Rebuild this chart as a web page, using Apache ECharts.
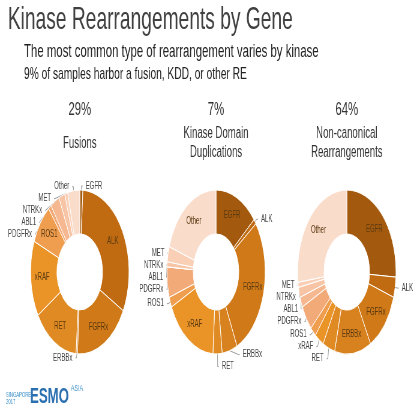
<!DOCTYPE html>
<html><head><meta charset="utf-8">
<script src="https://cdn.jsdelivr.net/npm/echarts@6/dist/echarts.min.js"></script>
<style>
html,body{margin:0;padding:0;background:#fff;overflow:hidden}
#main{width:700px;height:420px;transform:scale(0.6,1);transform-origin:0 0}
</style></head>
<body><div id="main"></div>
<script>
var genes = ['EGFR','ALK','FGFRx','ERBBx','RET','xRAF','ROS1','PDGFRx','ABL1','NTRKx','MET','Other'];
var colors = ['#a45a0e','#c06b12','#cf7918','#d8821f','#e08a24','#ea9428','#ef9d4e','#f2aa78','#f5b890','#f7c5a6','#f9cfb6','#fadccb'];
var fusions = [1, 32, 18, 0.5, 15, 15, 8, 1, 3, 2, 1, 4];
var kdd = [14, 1, 28, 5, 3, 17, 2, 6, 0, 1, 3, 20];
var noncanon = [26, 4, 12, 12, 4, 3, 2, 5, 2, 2, 1, 27];
var pcts = ['29%', '7%', '64%'];
var groupNames = ['Fusions', 'Kinase Domain\nDuplications', 'Non-canonical\nRearrangements'];
var centersX = [133, 360, 578];

function makeData(vals) {
    return genes.map(function (g, i) {
        var big = vals[i] >= 8;
        return {
            name: g, value: vals[i],
            itemStyle: {color: colors[i]},
            label: big ? {position: 'inside', color: '#5a3a10'} : {position: 'outside'},
            labelLine: {show: !big, length: 4, length2: 2, lineStyle: {color: '#999'}}
        };
    });
}

var series = [fusions, kdd, noncanon].map(function (vals, k) {
    return {
        type: 'pie',
        center: [centersX[k], 272],
        radius: [38, 82],
        startAngle: 90,
        clockwise: true,
        avoidLabelOverlap: true,
        itemStyle: {borderColor: '#fff', borderWidth: 1},
        label: {fontSize: 10, color: '#444', fontFamily: 'Liberation Sans'},
        data: makeData(vals)
    };
});

var graphics = [
    {type: 'text', left: 13, top: 4, style: {text: 'Kinase Rearrangements by Gene', fontSize: 32, fill: '#404040', fontFamily: 'Liberation Sans'}},
    {type: 'text', left: 40, top: 42, style: {text: 'The most common type of rearrangement varies by kinase', fontSize: 19, fill: '#222', fontFamily: 'Liberation Sans'}},
    {type: 'text', left: 40, top: 66, style: {text: '9% of samples harbor a fusion, KDD, or other RE', fontSize: 17, fill: '#222', fontFamily: 'Liberation Sans'}},
    {type: 'text', left: 10, top: 392, style: {text: 'SINGAPORE\n2017', fontSize: 7, fill: '#3a8fc8', fontFamily: 'Liberation Sans'}},
    {type: 'text', left: 50, top: 386, style: {text: 'ESMO', fontSize: 22, fontWeight: 'bold', fill: '#2a6fb0', fontFamily: 'Liberation Sans'}},
    {type: 'text', left: 118, top: 384, style: {text: 'ASIA', fontSize: 9, fill: '#3a8fc8', fontFamily: 'Liberation Sans'}}
];
pcts.forEach(function (p, k) {
    graphics.push({type: 'text', x: centersX[k], y: 100, style: {text: p, fontSize: 19, fill: '#333', textAlign: 'center', fontFamily: 'Liberation Sans'}});
    graphics.push({type: 'text', x: centersX[k], y: k === 0 ? 134 : 124, style: {text: groupNames[k], fontSize: 16, lineHeight: 19, fill: '#333', textAlign: 'center', fontFamily: 'Liberation Sans'}});
});

var chart = echarts.init(document.getElementById('main'));
chart.setOption({animation: false, graphic: graphics, series: series});
</script></body></html>
